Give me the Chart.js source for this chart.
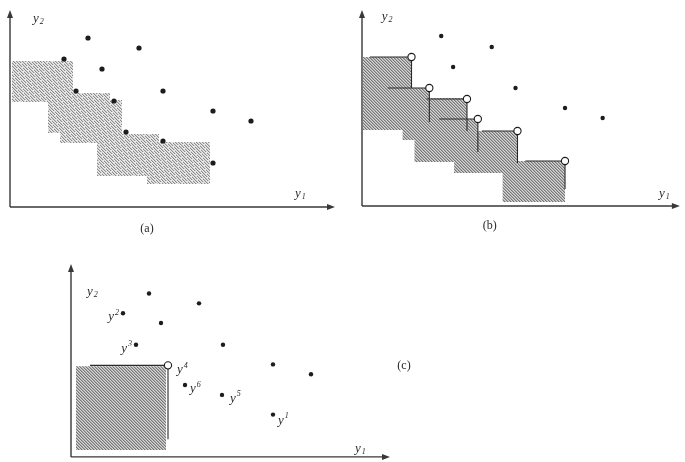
<!DOCTYPE html>
<html><head><meta charset="utf-8">
<script src="https://cdn.jsdelivr.net/npm/chart.js@4"></script>
<style>
html,body{margin:0;padding:0;background:#fff;width:685px;height:462px;overflow:hidden}
canvas{position:absolute}
#ca{left:0;top:0}
#cb{left:345px;top:0}
#cc{left:40px;top:255px}
</style></head><body>
<canvas id="ca" width="345" height="240"></canvas>
<canvas id="cb" width="340" height="240"></canvas>
<canvas id="cc" width="400" height="207"></canvas>
<script>
// ---------- Panel (a) ----------
const aPoints = [[7.8,16.9],[12.9,15.9],[5.4,14.8],[9.2,13.8],[6.6,11.6],[15.3,11.6],[10.4,10.6],[20.3,9.6],[24.1,8.6],[11.6,7.5],[15.3,6.6],[20.3,4.4]];
// boxes: [x0, x1, yBottom, yTop]
const aBoxes = [[0.2,6.3,10.5,14.6],[3.8,10.0,7.4,11.4],[5.0,11.2,6.4,10.7],[8.7,14.9,3.1,7.3],[13.7,20.0,2.3,6.5]];
const aRange = [32.5, 19.7];

// ---------- Panel (b) ----------
const bPoints = [[8.0,17.0],[13.1,15.9],[9.2,13.9],[15.5,11.8],[20.5,9.8],[24.3,8.8]];
const bCorners = [[5.0,14.9],[6.8,11.8],[10.6,10.7],[11.7,8.7],[15.7,7.5],[20.5,4.5]];
const bBoxes = [[0.1,5.0,7.6,14.9],[4.1,6.8,6.6,11.8],[5.3,10.6,4.4,10.8],[9.3,11.7,3.3,8.7],[11.6,15.7,3.3,7.5],[14.2,20.5,0.4,4.5]];
const bLineFrom = [0.8,2.6,6.5,7.8,12.1,16.5];   // y1 where each horizontal line starts
const bLineTo = [11.8,8.4,7.5,5.4,4.3,1.7];      // y2 where each vertical line ends
const bRange = [32.1, 19.6];

// ---------- Panel (c) ----------
const cPoints = [[7.8,16.6],[12.8,15.6],[5.2,14.6],[9.0,13.6],[6.5,11.4],[15.2,11.4],[20.2,9.4],[24.0,8.4],[11.4,7.3],[15.1,6.3],[20.2,4.3]];
const cPointNames = ['','','2','','3','','','','6','5','1'];
const cCorners = [[9.7,9.3]];
const cCornerNames = ['4'];
const cBoxes = [[0.5,9.5,0.7,9.2]];
const cLineFrom = [1.9];
const cLineTo = [1.8];
const cRange = [31.9, 19.6];

const panelNames = ['(a)','(b)','(c)'];

// ---------- textures ----------
function makePattern(kind){
  const n = kind==='stipple' ? 21 : 6;
  const cv = document.createElement('canvas'); cv.width=n; cv.height=n;
  const c = cv.getContext('2d');
  const img = c.createImageData(n,n);
  for(let y=0;y<n;y++)for(let x=0;x<n;x++){
    const d = ((x-y)%3+3)%3;
    let v;
    if(kind==='stipple'){
      v = d===0 ? (((x+5*y)%7===0)?228:140) : d===1 ? 205 : 236;
    } else {
      v = d===0 ? 118 : d===1 ? 172 : 214;
    }
    const i=(y*n+x)*4; img.data[i]=v; img.data[i+1]=v; img.data[i+2]=v; img.data[i+3]=255;
  }
  c.putImageData(img,0,0);
  return c.createPattern(cv,'repeat');
}

const toXY = a => a.map(p=>({x:p[0],y:p[1]}));
function boxSet(b, pat){
  return {data:[{x:b[0],y:b[2]},{x:b[1],y:b[2]},{x:b[1],y:b[3]},{x:b[0],y:b[3]},{x:b[0],y:b[2]}],
    showLine:true, fill:'shape', backgroundColor:pat, borderColor:'rgba(0,0,0,0)', borderWidth:0,
    pointRadius:0, tension:0, order:3};
}
function cornerLine(c, from, to){
  return {data:[{x:from,y:c[1]},{x:c[0],y:c[1]},{x:c[0],y:to}], showLine:true, fill:false,
    borderColor:'#2a2a2a', borderWidth:1.1, pointRadius:0, tension:0, order:2};
}
function dotSet(pts, r){
  return {data:toXY(pts), pointRadius:r, pointBackgroundColor:'#1c1c1c', pointBorderWidth:0, order:0};
}
function openSet(pts){
  return {data:toXY(pts), pointRadius:3.6, pointBackgroundColor:'#fff', pointBorderColor:'#1c1c1c', pointBorderWidth:1.1, order:0};
}

function yText(ctx, px, py, digit, mode, size, align){
  const big = `italic ${size}px "Liberation Serif"`;
  const small = `italic ${Math.round(size*0.62)}px "Liberation Serif"`;
  ctx.font = big; const w1 = ctx.measureText('y').width;
  ctx.font = small; const w2 = ctx.measureText(digit).width;
  const sx = align==='right' ? px - w1 - w2 - 1 : px;
  ctx.font = big; ctx.fillText('y', sx, py);
  ctx.font = small; ctx.fillText(digit, sx + w1 + 1, mode==='sup' ? py - size*0.42 : py + size*0.12);
}

const sketch = {
  id:'sketch',
  beforeDatasetsDraw(chart, args, o){
    const {ctx, chartArea:ca, scales:{x,y}} = chart;
    const x0 = x.getPixelForValue(0), y0 = y.getPixelForValue(0);
    ctx.save();
    ctx.strokeStyle='#383838'; ctx.fillStyle='#383838'; ctx.lineWidth=1.4;
    ctx.beginPath();
    ctx.moveTo(x0,y0); ctx.lineTo(x0,ca.top+5);
    ctx.moveTo(x0,y0); ctx.lineTo(ca.right-5,y0);
    ctx.stroke();
    ctx.beginPath(); ctx.moveTo(x0,ca.top); ctx.lineTo(x0-3,ca.top+8); ctx.lineTo(x0+3,ca.top+8); ctx.closePath(); ctx.fill();
    ctx.beginPath(); ctx.moveTo(ca.right,y0); ctx.lineTo(ca.right-8,y0-3); ctx.lineTo(ca.right-8,y0+3); ctx.closePath(); ctx.fill();
    ctx.restore();
  },
  afterDraw(chart, args, o){
    const {ctx, scales:{x,y}} = chart;
    ctx.save();
    ctx.fillStyle='#2a2a2a'; ctx.textBaseline='alphabetic';
    yText(ctx, x.getPixelForValue(o.y2At[0]), y.getPixelForValue(o.y2At[1]), '2', 'sub', 13, 'left');
    yText(ctx, x.getPixelForValue(o.y1At[0]), y.getPixelForValue(o.y1At[1]), '1', 'sub', 13, 'left');
    ctx.font = '12px "Liberation Serif"'; ctx.textAlign='center';
    ctx.fillText(o.name, x.getPixelForValue(o.nameAt[0]), y.getPixelForValue(o.nameAt[1]));
    ctx.textAlign='left';
    (o.tags||[]).forEach(t=>{
      if(!t.name) return;
      yText(ctx, x.getPixelForValue(t.p[0])+t.dx, y.getPixelForValue(t.p[1])+t.dy, t.name, 'sup', 13, t.align);
    });
    ctx.restore();
  }
};

function makeChart(id, datasets, range, padding, opts){
  return new Chart(document.getElementById(id), {
    type:'scatter',
    data:{datasets},
    options:{
      responsive:false, animation:false, devicePixelRatio:1, events:[],
      layout:{padding},
      scales:{x:{type:'linear',min:0,max:range[0],display:false},y:{type:'linear',min:0,max:range[1],display:false}},
      plugins:{legend:{display:false},tooltip:{enabled:false},sketch:opts}
    },
    plugins:[sketch]
  });
}

// (a)
const patA = makePattern('stipple');
makeChart('ca', [dotSet(aPoints,2.6), ...aBoxes.map(b=>boxSet(b,patA))], aRange,
  {left:10,right:10,top:10,bottom:33},
  {name:panelNames[0], nameAt:[13.7,-2.5], y2At:[2.3,18.5], y1At:[28.5,1.0]});

// (b)
const patB = makePattern('hatch');
makeChart('cb', [dotSet(bPoints,2.2), openSet(bCorners),
  ...bCorners.map((c,i)=>cornerLine(c,bLineFrom[i],bLineTo[i])),
  ...bBoxes.map(b=>boxSet(b,patB))], bRange,
  {left:17,right:2,top:10,bottom:34},
  {name:panelNames[1], nameAt:[12.9,-2.3], y2At:[2.0,18.6], y1At:[30.0,0.9]});

// (c)
const patC = makePattern('hatch');
const cOff = {'2':[-4,7,'right'],'3':[-4,7,'right'],'6':[5,7,'left'],'5':[8,7,'left'],'1':[5,9,'left'],'4':[9,8,'left']};
const cTags = cPoints.map((p,i)=>({p, name:cPointNames[i]}))
  .concat(cCorners.map((p,i)=>({p, name:cCornerNames[i]})))
  .map(t=>t.name ? Object.assign(t,{dx:cOff[t.name][0],dy:cOff[t.name][1],align:cOff[t.name][2]}) : t);
makeChart('cc', [dotSet(cPoints,2.2), openSet(cCorners),
  ...cCorners.map((c,i)=>cornerLine(c,cLineFrom[i],cLineTo[i])),
  ...cBoxes.map(b=>boxSet(b,patC))], cRange,
  {left:31,right:50,top:9,bottom:2},
  {name:panelNames[2], nameAt:[33.3,8.9], y2At:[1.6,16.4], y1At:[28.4,0.5], tags:cTags});
</script>
</body></html>
